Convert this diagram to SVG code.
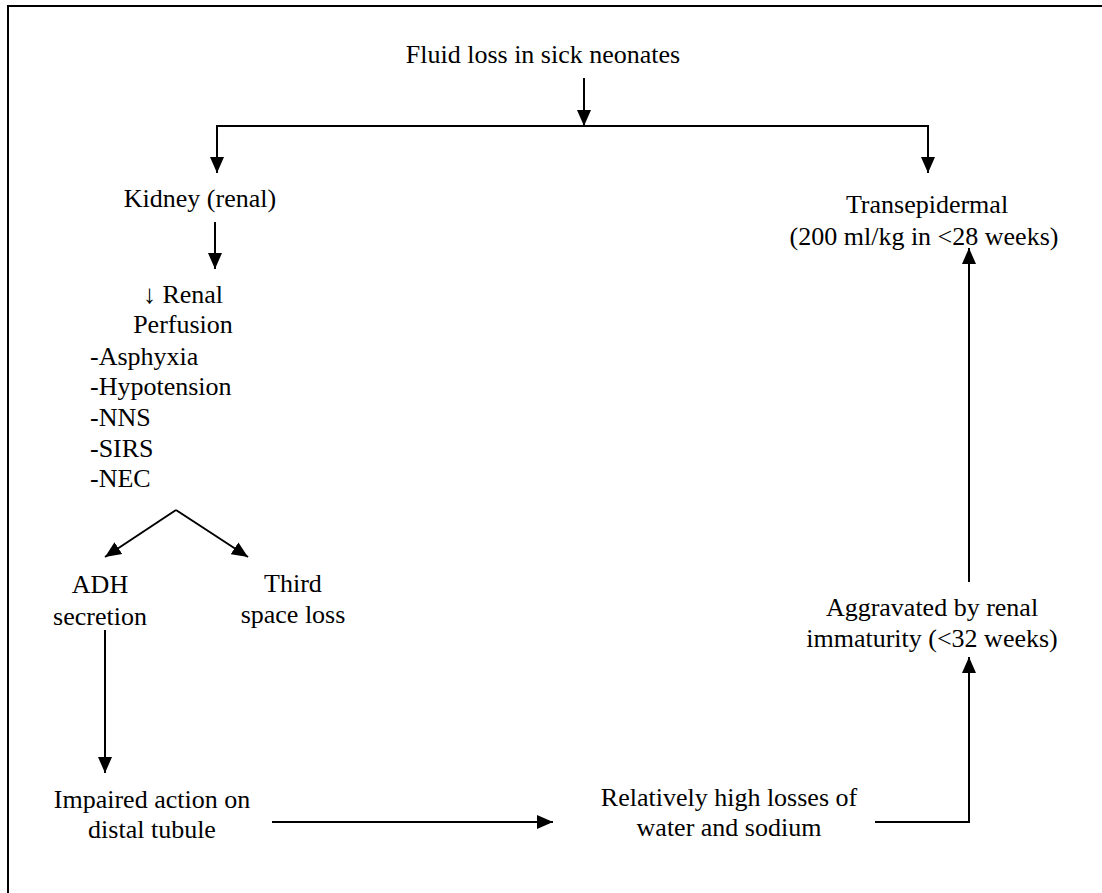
<svg xmlns="http://www.w3.org/2000/svg" width="1102" height="893" viewBox="0 0 1102 893" font-family="Liberation Serif, Times New Roman, DejaVu Serif, serif" font-size="26">
<style>
text{fill:#000}
.c{text-anchor:middle}
.l{stroke:#000;stroke-width:2;fill:none}
.a{marker-end:url(#ah)}
</style>
<defs>
<marker id="ah" markerUnits="userSpaceOnUse" markerWidth="16" markerHeight="16" viewBox="0 0 16 16" refX="16" refY="8" orient="auto">
<path d="M0,1 L16,8 L0,15 z" fill="#000"/>
</marker>
</defs>
<rect width="1102" height="893" fill="#fff"/>
<g id="frame"><path class="l" d="M8,893 V6 H1102"/></g>
<g id="connectors">
<path class="l a" d="M584,78 V126"/>
<path class="l" d="M217,126 H928"/>
<path class="l a" d="M217,125 V173"/>
<path class="l a" d="M928,125 V173"/>
<path class="l a" d="M215,222 V269"/>
<path class="l a" d="M176,510 L105,557"/>
<path class="l a" d="M176,510 L248,557"/>
<path class="l a" d="M105,630 V773"/>
<path class="l a" d="M272,822 H553"/>
<path class="l a" d="M875,822 H969 V657"/>
<path class="l a" d="M969,582 V248"/>
</g>
<g id="n-fluid"><text class="c" x="543" y="63">Fluid loss in sick neonates</text></g>
<g id="n-kidney"><text class="c" x="200" y="207">Kidney (renal)</text></g>
<g id="n-trans"><text class="c" x="927" y="213">Transepidermal</text><text class="c" x="924" y="245">(200 ml/kg in &lt;28 weeks)</text></g>
<g id="n-perfusion"><text class="c" x="183" y="303">↓ Renal</text><text class="c" x="183" y="333">Perfusion</text>
<text x="90" y="365">-Asphyxia</text><text x="90" y="395">-Hypotension</text><text x="90" y="426">-NNS</text><text x="90" y="457">-SIRS</text><text x="90" y="487">-NEC</text></g>
<g id="n-adh"><text class="c" x="100" y="593">ADH</text><text class="c" x="100" y="625">secretion</text></g>
<g id="n-third"><text class="c" x="293" y="592">Third</text><text class="c" x="293" y="623">space loss</text></g>
<g id="n-impaired"><text class="c" x="152" y="808">Impaired action on</text><text class="c" x="152" y="838">distal tubule</text></g>
<g id="n-losses"><text class="c" x="729" y="806">Relatively high losses of</text><text class="c" x="729" y="836">water and sodium</text></g>
<g id="n-aggravated"><text class="c" x="932" y="616">Aggravated by renal</text><text class="c" x="932" y="647">immaturity (&lt;32 weeks)</text></g>
</svg>
